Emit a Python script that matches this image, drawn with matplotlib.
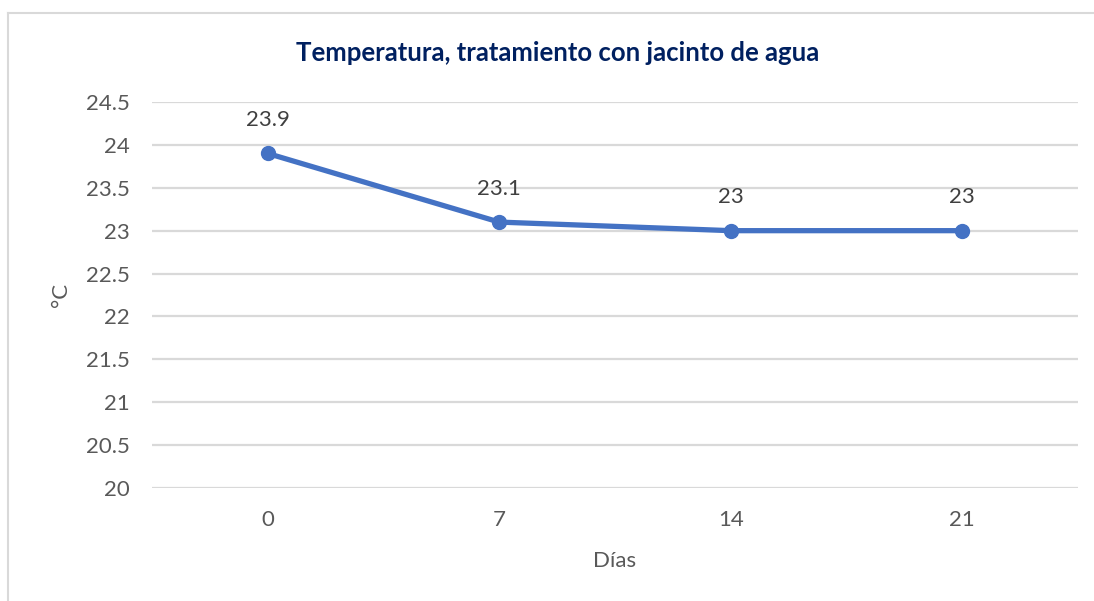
import matplotlib
matplotlib.use("Agg")
import matplotlib.pyplot as plt
from matplotlib.lines import Line2D

dias = ["0", "7", "14", "21"]
temperatura = [23.9, 23.1, 23.0, 23.0]
etiquetas = ["23.9", "23.1", "23", "23"]
yticks = [20, 20.5, 21, 21.5, 22, 22.5, 23, 23.5, 24, 24.5]
ytick_labels = ["20", "20.5", "21", "21.5", "22", "22.5", "23", "23.5", "24", "24.5"]

plt.rcParams['font.family'] = ['Lato', 'DejaVu Sans']

fig = plt.figure(figsize=(10.94, 6.01), dpi=100)
ax = fig.add_axes([152/1094, 113/601, 926/1094, 386/601])

x = list(range(len(dias)))
ax.plot(x, temperatura, color="#4472C4", lw=3.8, marker="o", ms=10,
        solid_capstyle="round", zorder=3, clip_on=False)
for xi, yi, lab in zip(x, temperatura, etiquetas):
    ax.annotate(lab, (xi, yi), xytext=(0, 24), textcoords="offset points",
                ha="center", va="center", fontsize=16, color="#404040")

ax.set_xlim(-0.5, len(dias) - 0.5)
ax.set_ylim(20, 24.5)
ax.set_yticks(yticks)
ax.set_yticklabels(ytick_labels)
ax.set_xticks(x)
ax.set_xticklabels(dias)
ax.grid(axis="y", color="#D9D9D9", lw=1.6)
ax.set_axisbelow(True)
for s in ax.spines.values():
    s.set_visible(False)
ax.tick_params(axis="both", length=0, labelsize=16, labelcolor="#595959")
ax.tick_params(axis="y", pad=16)
ax.tick_params(axis="x", pad=16)

ax.set_xlabel("Días", fontsize=16, color="#595959", labelpad=15)
ax.set_ylabel("°C", fontsize=16, color="#595959", labelpad=11)

fig.text(558/1094, 1 - 53/601, "Temperatura, tratamiento con jacinto de agua",
         ha="center", va="center", fontsize=18.5, fontweight="bold", color="#002060")

# chart border (left and top visible)
fig.add_artist(Line2D([8/1094, 8/1094], [0, 1 - 13/601], transform=fig.transFigure,
                      color="#D9D9D9", lw=1.5))
fig.add_artist(Line2D([8/1094, 1], [1 - 13/601, 1 - 13/601], transform=fig.transFigure,
                      color="#D9D9D9", lw=1.5))

fig.savefig("out.png", dpi=100, facecolor="white")
